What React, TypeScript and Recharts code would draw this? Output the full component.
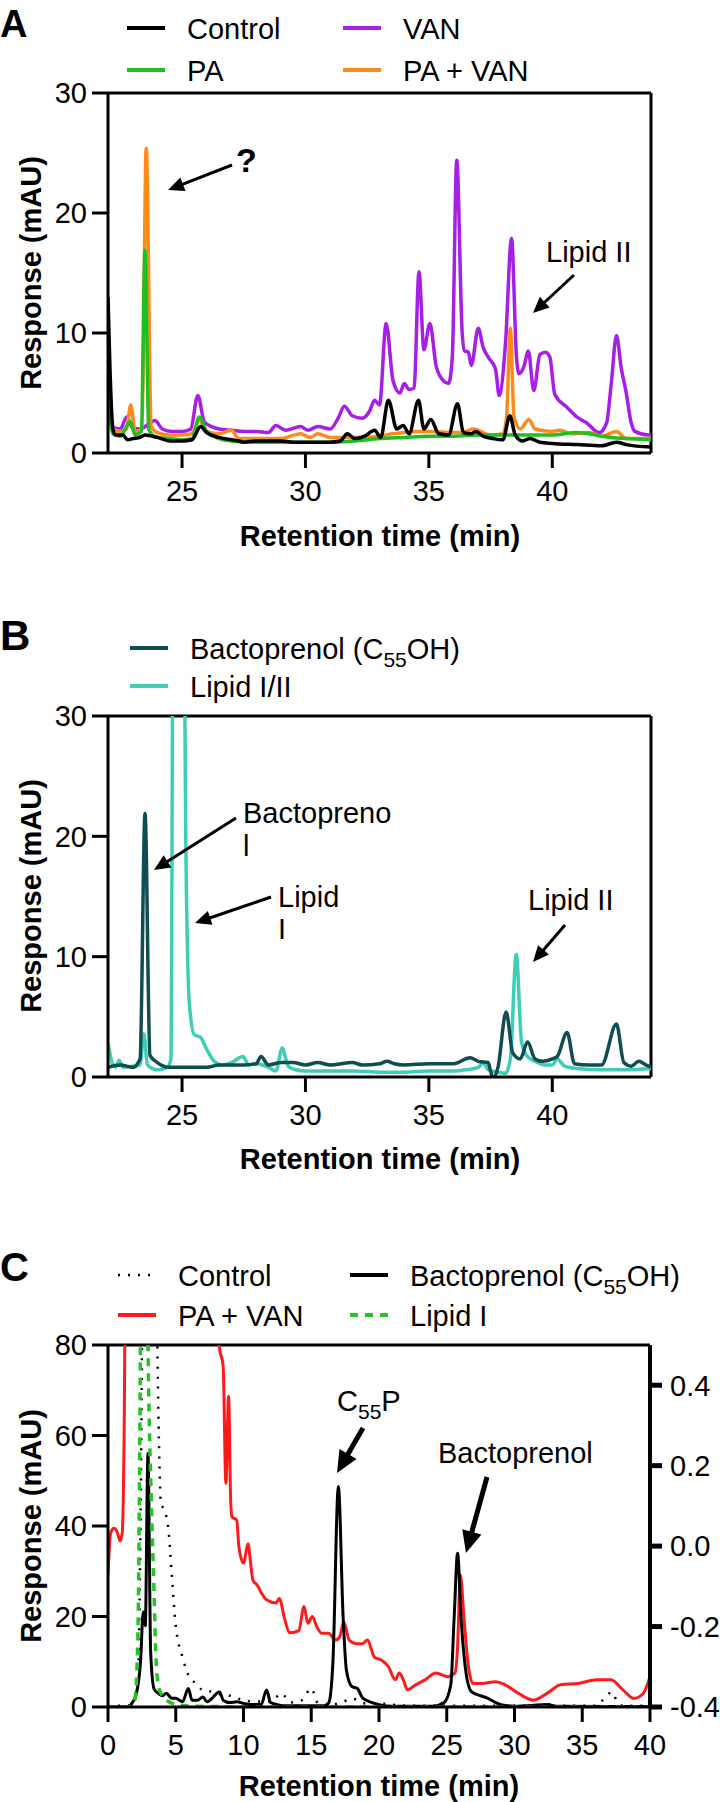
import React from 'react';
import { LineChart, Line, XAxis, YAxis, ReferenceLine } from 'recharts';

const FONT = 'Liberation Sans, Arial, Helvetica, sans-serif';

// ---------- Panel A (retention time min, response mAU) ----------
const aControl: number[][] = [[22.0,13],[22.08,7],[22.2,2.0],[22.3,1.5],[22.6,1.5],[22.8,1.1],[23.0,1.2],[23.3,1.3],[23.5,1.5],[23.8,1.4],[24.0,1.3],[24.5,1.0],[25.0,1.0],[25.4,1.1],[25.75,2.2],[26.0,1.7],[26.5,1.3],[27.0,1.1],[27.3,1.0],[27.5,0.9],[28.0,1.0],[28.5,1.0],[29.0,1.0],[29.5,0.9],[30.0,0.9],[30.5,0.9],[31.0,0.9],[31.4,1.0],[31.7,1.6],[32.0,1.2],[32.4,1.4],[32.8,1.9],[33.05,1.3],[33.36,4.4],[33.7,2.0],[33.96,2.3],[34.2,1.6],[34.58,4.4],[34.8,2.0],[35.08,2.8],[35.4,1.6],[35.8,1.5],[36.16,4.1],[36.4,1.7],[36.7,1.6],[36.9,1.8],[37.2,1.4],[37.6,1.2],[38.0,1.1],[38.28,3.1],[38.5,1.5],[38.8,1.0],[39.1,1.2],[39.5,0.9],[40.0,0.8],[41.0,0.7],[42.0,0.6],[42.6,0.9],[43.0,0.7],[44.0,0.5]];
const aPA: number[][] = [[22,4.0],[22.1,2.5],[22.2,1.6],[22.5,1.4],[22.9,2.6],[23.1,1.5],[23.35,1.8],[23.5,16.9],[23.65,2.0],[23.8,1.5],[24.0,1.3],[24.5,1.2],[25.0,1.1],[25.4,1.2],[25.7,3.0],[26.0,1.8],[26.5,1.2],[27.0,1.0],[28.0,0.9],[29.0,0.9],[30.0,0.9],[31.0,0.9],[32.0,1.0],[33.0,1.2],[34.0,1.3],[35.0,1.4],[36.0,1.4],[37.0,1.5],[38.0,1.5],[39.0,1.5],[40.0,1.5],[41.0,1.7],[41.5,1.6],[42.0,1.4],[43.0,1.2],[44.0,1.1]];
const aPAVAN: number[][] = [[22,4.8],[22.1,2.8],[22.2,2.0],[22.5,1.8],[22.75,2.0],[22.92,4.0],[23.1,1.8],[23.38,2.0],[23.55,25.4],[23.75,2.2],[24.0,1.7],[24.5,1.5],[25.0,1.5],[25.4,1.6],[25.7,2.7],[26.0,1.8],[26.5,1.6],[27.0,1.9],[27.3,1.2],[28.0,1.2],[29.0,1.2],[29.8,1.6],[30.2,1.3],[30.5,1.6],[31.0,1.3],[32.0,1.3],[33.0,1.4],[33.5,1.6],[34.0,1.7],[34.5,1.8],[35.0,1.8],[36.0,1.7],[36.5,1.8],[36.8,2.0],[37.5,1.5],[38.0,1.6],[38.15,3.0],[38.3,10.4],[38.45,3.0],[38.7,2.0],[39.05,2.8],[39.3,2.0],[40.0,1.8],[40.3,1.9],[40.8,1.6],[41.5,1.7],[42.0,1.4],[42.6,1.8],[43.0,1.2],[44.0,1.2]];
const aVAN: number[][] = [[22,4.5],[22.1,2.8],[22.25,2.1],[22.5,2.0],[22.76,3.0],[23.0,2.1],[23.3,2.0],[23.7,2.5],[23.9,2.7],[24.2,2.0],[24.6,1.8],[25.0,1.8],[25.35,2.0],[25.64,4.8],[25.9,2.6],[26.2,2.2],[26.5,2.0],[27.0,1.9],[27.5,1.8],[28.0,1.8],[28.5,1.7],[28.8,2.3],[29.2,1.9],[29.8,2.2],[30.1,1.9],[30.5,2.2],[31.0,2.0],[31.3,2.8],[31.58,3.9],[31.9,3.1],[32.3,2.9],[32.6,3.5],[32.8,4.4],[33.0,4.0],[33.27,10.8],[33.55,6.0],[33.83,5.0],[34.0,5.8],[34.2,5.3],[34.4,5.4],[34.6,15.1],[34.8,8.6],[35.04,10.8],[35.3,7.2],[35.6,6.0],[35.8,5.8],[35.95,8.0],[36.13,24.4],[36.35,10.0],[36.45,8.5],[36.6,8.4],[36.72,7.3],[37.0,10.4],[37.2,8.8],[37.4,8.0],[37.7,7.0],[37.85,4.8],[38.1,9.0],[38.35,17.9],[38.55,8.0],[38.65,6.6],[38.85,7.2],[39.03,8.5],[39.25,5.2],[39.5,8.2],[39.72,8.4],[39.9,8.0],[40.1,4.9],[40.6,3.8],[41.0,3.0],[41.4,2.5],[41.9,1.7],[42.2,2.5],[42.4,6.0],[42.6,9.8],[42.8,7.0],[42.98,5.2],[43.2,2.5],[43.35,1.8],[43.9,1.5],[44,1.5]];

// ---------- Panel B ----------
const bBactoprenol: number[][] = [[22,0.8],[22.5,1.0],[23.0,0.8],[23.3,1.5],[23.5,21.9],[23.7,1.8],[24.0,1.2],[24.5,0.8],[25.0,0.8],[26.0,0.8],[26.5,1.0],[27.0,1.0],[27.5,1.0],[28.0,1.1],[28.2,1.7],[28.5,1.0],[29.0,1.2],[29.5,1.2],[30.0,1.0],[30.5,1.2],[31.0,1.0],[31.9,1.2],[32.3,1.0],[33.0,1.1],[33.3,1.3],[33.6,1.1],[34.0,1.0],[35.0,1.1],[36.0,1.1],[36.67,1.6],[37.0,1.3],[37.4,1.2],[37.5,0.5],[37.6,-0.1],[37.8,0.8],[38.13,5.4],[38.4,2.0],[38.7,1.5],[39.0,2.9],[39.3,1.5],[39.6,1.3],[40.0,1.5],[40.2,1.7],[40.6,3.7],[40.9,1.1],[41.5,1.0],[42.0,1.0],[42.6,4.4],[42.9,1.2],[43.2,0.9],[43.5,1.3],[43.8,1.0],[44.0,0.8]];
const bLipid: number[][] = [[22,2.8],[22.2,1.0],[22.3,0.8],[22.45,1.4],[22.6,0.8],[23.0,0.9],[23.3,1.0],[23.45,3.6],[23.6,1.0],[24.0,0.6],[24.4,0.8],[24.55,1.5],[24.65,45],[25.05,45],[25.15,20],[25.3,6],[25.5,3.5],[25.75,3.3],[26.0,2.3],[26.3,1.3],[26.6,1.0],[27.0,1.2],[27.47,1.7],[27.7,1.0],[28.0,1.1],[28.5,0.8],[28.8,0.5],[29.06,2.4],[29.3,0.9],[29.6,0.6],[30.0,0.5],[31.0,0.5],[32.0,0.5],[33.0,0.4],[34.0,0.4],[35.0,0.5],[36.0,0.5],[36.5,0.6],[37.0,0.8],[37.2,1.2],[37.4,0.6],[37.8,0.4],[38.1,0.3],[38.3,1.5],[38.54,10.2],[38.75,3.0],[38.95,1.8],[39.3,1.3],[39.7,1.0],[40.0,1.0],[40.2,1.5],[40.5,0.9],[41.0,0.7],[42.0,0.6],[43.0,0.6],[44.0,0.7]];

// ---------- Panel C ----------
const cPAVAN: number[][] = [[0,29.2],[0.2,38.5],[0.45,39.5],[0.7,38.5],[0.9,36.7],[1.05,38.5],[1.19,60],[1.3,100],[8.0,100],[8.2,80],[8.5,75.2],[8.7,49.4],[8.9,68.7],[9.05,46],[9.15,42],[9.5,41.3],[9.66,35.4],[10.0,31.8],[10.34,36],[10.5,32.5],[10.7,28],[11.0,27],[11.36,25],[11.7,23.7],[12.4,23],[12.64,24],[13.05,19.3],[13.4,16.4],[14.07,16.8],[14.47,22.2],[14.75,18.5],[15.08,20],[15.4,17.8],[15.76,16.3],[16.27,16.3],[16.8,14.8],[17.1,15.5],[17.4,18.8],[17.8,14.8],[18.3,14],[18.8,14],[19.15,14.8],[19.66,11],[20.17,10.4],[20.7,8.9],[21.2,6],[21.5,7.5],[21.8,6.0],[22.1,3.8],[22.7,4.9],[23.4,6],[24.2,7.5],[25.1,6.7],[25.6,7.5],[25.8,13.3],[26.0,29.2],[26.3,18.5],[26.6,8.9],[26.95,5.2],[27.6,5.2],[28.6,5.6],[29.3,4.9],[30.3,3.0],[31.4,1.5],[32.4,3.0],[33.4,4.9],[34.7,5.2],[36.1,6.0],[37.1,6.0],[38.0,3.8],[38.8,1.9],[39.5,3.0],[40,6.7]];
const cControl: number[][] = [[0,0.2],[1,0.3],[1.8,0.5],[2.2,5],[2.4,40],[2.6,100],[3.5,100],[3.75,60],[3.9,45],[4.2,43.3],[4.5,38],[4.7,29.5],[5.0,18],[5.5,11],[6.0,6.6],[6.5,5.2],[7.0,3.7],[7.5,3.5],[8.0,3.0],[9.0,2.5],[10,1.5],[11,1.2],[12,1.2],[12.8,3],[13.5,1],[14.3,1.5],[15,4.1],[15.5,0.8],[16,0.5],[17,0.8],[18.1,1.8],[19,0.8],[20,0.8],[21,0.5],[22,0.3],[36,0.3],[36.5,1.5],[37.2,3.3],[37.6,1],[38,0.3],[40,0.3]];
const cLipidI: number[][] = [[0,0],[1.3,0],[1.8,0.5],[2.0,2],[2.2,15],[2.35,60],[2.45,100],[2.85,100],[3.0,70],[3.2,45],[3.4,25],[3.5,14],[3.7,5],[4.0,2.5],[4.6,1.0],[5.0,0.5],[6.0,0.2],[8,0.1],[10,0],[40,0]];
// Bactoprenol (C55OH) trace, right-axis units
const cBactoprenol: number[][] = [[0,-0.4],[1.5,-0.4],[1.8,-0.389],[2.1,-0.366],[2.4,-0.288],[2.6,-0.164],[2.75,-0.198],[2.95,0.23],[3.15,-0.265],[3.4,-0.355],[3.7,-0.366],[4.0,-0.372],[4.3,-0.366],[4.7,-0.378],[5.0,-0.378],[5.5,-0.387],[5.93,-0.354],[6.2,-0.383],[6.6,-0.383],[7.0,-0.375],[7.3,-0.387],[8.24,-0.363],[8.5,-0.383],[9.0,-0.389],[9.5,-0.387],[10,-0.391],[10.5,-0.394],[11.3,-0.394],[11.7,-0.358],[12,-0.389],[12.5,-0.394],[13,-0.397],[16,-0.397],[16.3,-0.389],[16.6,-0.288],[17.0,0.148],[17.35,-0.175],[17.6,-0.31],[18.0,-0.349],[18.4,-0.354],[18.8,-0.378],[19.5,-0.389],[20,-0.394],[21,-0.398],[24,-0.398],[24.8,-0.389],[25.3,-0.344],[25.55,-0.175],[25.8,-0.0175],[26.05,-0.175],[26.4,-0.31],[26.8,-0.361],[27.5,-0.372],[28,-0.378],[28.5,-0.387],[29,-0.394],[30,-0.398],[32.5,-0.394],[33,-0.398],[40,-0.399]];

const abTicks = [25, 30, 35, 40];
const aYTicks = [0, 10, 20, 30];
const cXTicks = [0, 5, 10, 15, 20, 25, 30, 35, 40];
const cYTicks = [0, 20, 40, 60, 80];
const cRightTicks = [-0.4, -0.2, 0, 0.2, 0.4];

const pts = (arr: number[][]) => arr.map(([t, v]) => ({ t, v }));

const axisStyle = { stroke: '#000', strokeWidth: 3 };
const tickStyle = { fontSize: 29, fill: '#000', fontFamily: FONT };

function Arrow({ x1, y1, x2, y2, w = 3, head = 16 }: any) {
  const dx = x2 - x1, dy = y2 - y1;
  const len = Math.sqrt(dx * dx + dy * dy);
  const ux = dx / len, uy = dy / len;
  const bx = x2 - ux * head, by = y2 - uy * head;
  const hw = head * 0.45;
  const p = `${x2},${y2} ${bx - uy * hw},${by + ux * hw} ${bx + uy * hw},${by - ux * hw}`;
  return (
    <g>
      <line x1={x1} y1={y1} x2={bx + ux * 2} y2={by + uy * 2} stroke="#000" strokeWidth={w} />
      <polygon points={p} fill="#000" />
    </g>
  );
}

function LegendItem({ x, y, color, label, dash, width = 4, children }: any) {
  return (
    <g>
      <line x1={x} y1={y} x2={x + 38} y2={y} stroke={color} strokeWidth={width} strokeDasharray={dash} />
      <text x={x + 60} y={y + 11} fontSize={29} fontFamily={FONT} fill="#000">{children || label}</text>
    </g>
  );
}

function YTitle({ cy }: { cy: number }) {
  return (
    <text transform={`translate(41, ${cy}) rotate(-90)`} textAnchor="middle" fontSize={29} fontWeight="bold" fontFamily={FONT} fill="#000">Response (mAU)</text>
  );
}

function XTitle({ y, cx }: { y: number; cx: number }) {
  return (
    <text x={cx} y={y} textAnchor="middle" fontSize={29} fontWeight="bold" fontFamily={FONT} fill="#000">Retention time (min)</text>
  );
}

export default function App() {
  return (
    <div style={{ position: 'absolute', left: 0, top: 0, width: 720, height: 1802, background: '#fff' }}>
      {/* Panel A */}
      <div style={{ position: 'absolute', left: 0, top: 0 }}>
        <LineChart width={720} height={600} margin={{ top: 93, right: 69, bottom: 107, left: 48 }}>
          <XAxis type="number" dataKey="t" domain={[22, 44]} ticks={abTicks} interval={0} allowDataOverflow height={40} tickSize={15} tickMargin={12} axisLine={axisStyle} tickLine={axisStyle} tick={tickStyle} />
          <YAxis type="number" domain={[0, 30]} ticks={aYTicks} interval={0} allowDataOverflow width={60} tickSize={16} tickMargin={5} axisLine={axisStyle} tickLine={axisStyle} tick={tickStyle} />
          <ReferenceLine y={30} stroke="#000" strokeWidth={3} />
          <ReferenceLine x={44} stroke="#000" strokeWidth={3} />
          <Line data={pts(aVAN)} dataKey="v" type="monotone" stroke="#a61fe6" strokeWidth={3.5} dot={false} isAnimationActive={false} />
          <Line data={pts(aPAVAN)} dataKey="v" type="monotone" stroke="#ff8a1c" strokeWidth={3.5} dot={false} isAnimationActive={false} />
          <Line data={pts(aPA)} dataKey="v" type="monotone" stroke="#1fbf1f" strokeWidth={3.5} dot={false} isAnimationActive={false} />
          <Line data={pts(aControl)} dataKey="v" type="monotone" stroke="#000" strokeWidth={3.5} dot={false} isAnimationActive={false} />
        </LineChart>
      </div>

      {/* Panel B */}
      <div style={{ position: 'absolute', left: 0, top: 600 }}>
        <LineChart width={720} height={580} margin={{ top: 116, right: 69, bottom: 63, left: 48 }}>
          <XAxis type="number" dataKey="t" domain={[22, 44]} ticks={abTicks} interval={0} allowDataOverflow height={40} tickSize={15} tickMargin={12} axisLine={axisStyle} tickLine={axisStyle} tick={tickStyle} />
          <YAxis type="number" domain={[0, 30]} ticks={aYTicks} interval={0} allowDataOverflow width={60} tickSize={16} tickMargin={5} axisLine={axisStyle} tickLine={axisStyle} tick={tickStyle} />
          <ReferenceLine y={30} stroke="#000" strokeWidth={3} />
          <ReferenceLine x={44} stroke="#000" strokeWidth={3} />
          <Line data={pts(bLipid)} dataKey="v" type="monotone" stroke="#3ccfb6" strokeWidth={3.5} dot={false} isAnimationActive={false} />
          <Line data={pts(bBactoprenol)} dataKey="v" type="monotone" stroke="#0f4d50" strokeWidth={3.5} dot={false} isAnimationActive={false} />
        </LineChart>
      </div>

      {/* Panel C */}
      <div style={{ position: 'absolute', left: 0, top: 1180 }}>
        <LineChart width={720} height={622} margin={{ top: 165, right: 10, bottom: 55, left: 48 }}>
          <XAxis type="number" dataKey="t" domain={[0, 40]} ticks={cXTicks} interval={0} allowDataOverflow height={40} tickSize={15} tickMargin={12} axisLine={axisStyle} tickLine={axisStyle} tick={tickStyle} />
          <YAxis yAxisId="left" type="number" domain={[0, 80]} ticks={cYTicks} interval={0} allowDataOverflow width={60} tickSize={16} tickMargin={5} axisLine={axisStyle} tickLine={axisStyle} tick={tickStyle} />
          <YAxis yAxisId="right" orientation="right" type="number" domain={[-0.4, 0.5]} ticks={cRightTicks} interval={0} allowDataOverflow width={60} tickSize={12} tickMargin={8} axisLine={{ stroke: '#000', strokeWidth: 4 }} tickLine={{ stroke: '#000', strokeWidth: 5 }} tick={tickStyle} tickFormatter={(v: number) => v.toFixed(1)} />
          <ReferenceLine yAxisId="left" y={80} stroke="#000" strokeWidth={3} />
          <Line yAxisId="left" data={pts(cPAVAN)} dataKey="v" type="monotone" stroke="#ff1a1a" strokeWidth={3} dot={false} isAnimationActive={false} />
          <Line yAxisId="left" data={pts(cControl)} dataKey="v" type="monotone" stroke="#000" strokeWidth={2.5} strokeDasharray="2 8" dot={false} isAnimationActive={false} />
          <Line yAxisId="right" data={pts(cBactoprenol)} dataKey="v" type="monotone" stroke="#000" strokeWidth={3} dot={false} isAnimationActive={false} />
          <Line yAxisId="left" data={pts(cLipidI)} dataKey="v" type="monotone" stroke="#22c522" strokeWidth={3.5} strokeDasharray="8 7" dot={false} isAnimationActive={false} />
        </LineChart>
      </div>

      {/* Overlay: labels, legends, annotations */}
      <svg width={720} height={1802} style={{ position: 'absolute', left: 0, top: 0, pointerEvents: 'none' }}>
        {/* Panel letters */}
        <text x={0} y={37} fontSize={38} fontWeight="bold" fontFamily={FONT}>A</text>
        <text x={0} y={650} fontSize={42} fontWeight="bold" fontFamily={FONT}>B</text>
        <text x={0} y={1281} fontSize={40} fontWeight="bold" fontFamily={FONT}>C</text>

        {/* Legend A */}
        <LegendItem x={127} y={28} color="#000" label="Control" />
        <LegendItem x={343} y={28} color="#a61fe6" label="VAN" />
        <LegendItem x={127} y={70} color="#1fbf1f" label="PA" />
        <LegendItem x={343} y={70} color="#ff8a1c" label="PA + VAN" />

        {/* Legend B */}
        <LegendItem x={130} y={648} color="#0f4d50">
          Bactoprenol (C<tspan fontSize={21} dy={8}>55</tspan><tspan dy={-8}>OH)</tspan>
        </LegendItem>
        <LegendItem x={130} y={686} color="#3ccfb6" label="Lipid I/II" />

        {/* Legend C */}
        <LegendItem x={118} y={1275} color="#000" label="Control" dash="2 8" width={2.5} />
        <LegendItem x={350} y={1275} color="#000">
          Bactoprenol (C<tspan fontSize={21} dy={8}>55</tspan><tspan dy={-8}>OH)</tspan>
        </LegendItem>
        <LegendItem x={118} y={1315} color="#ff1a1a" label="PA + VAN" />
        <LegendItem x={350} y={1315} color="#22c522" label="Lipid I" dash="8 7" />

        {/* Axis titles */}
        <YTitle cy={273} />
        <YTitle cy={896} />
        <YTitle cy={1526} />
        <XTitle cx={380} y={546} />
        <XTitle cx={380} y={1169} />
        <XTitle cx={379} y={1796} />

        {/* Annotations A */}
        <text x={236} y={172} fontSize={34} fontWeight="bold" fontFamily={FONT}>?</text>
        <Arrow x1={232} y1={165} x2={168} y2={190} />
        <text x={546} y={262} fontSize={29} fontFamily={FONT}>Lipid II</text>
        <Arrow x1={574} y1={275} x2={533} y2={313} />

        {/* Annotations B */}
        <text x={243} y={823} fontSize={29} fontFamily={FONT}>Bactopreno</text>
        <text x={243} y={856} fontSize={29} fontFamily={FONT}>l</text>
        <Arrow x1={236} y1={818} x2={154} y2={870} />
        <text x={278} y={907} fontSize={29} fontFamily={FONT}>Lipid</text>
        <text x={278} y={939} fontSize={29} fontFamily={FONT}>I</text>
        <Arrow x1={271} y1={897} x2={195} y2={923} />
        <text x={528} y={910} fontSize={29} fontFamily={FONT}>Lipid II</text>
        <Arrow x1={565} y1={925} x2={533} y2={962} />

        {/* Annotations C */}
        <text x={337} y={1411} fontSize={29} fontFamily={FONT}>C<tspan fontSize={21} dy={8}>55</tspan><tspan dy={-8}>P</tspan></text>
        <Arrow x1={363} y1={1428} x2={337} y2={1473} w={5} head={22} />
        <text x={438} y={1463} fontSize={29} fontFamily={FONT}>Bactoprenol</text>
        <Arrow x1={487} y1={1477} x2={466} y2={1553} w={5} head={22} />
      </svg>
    </div>
  );
}
